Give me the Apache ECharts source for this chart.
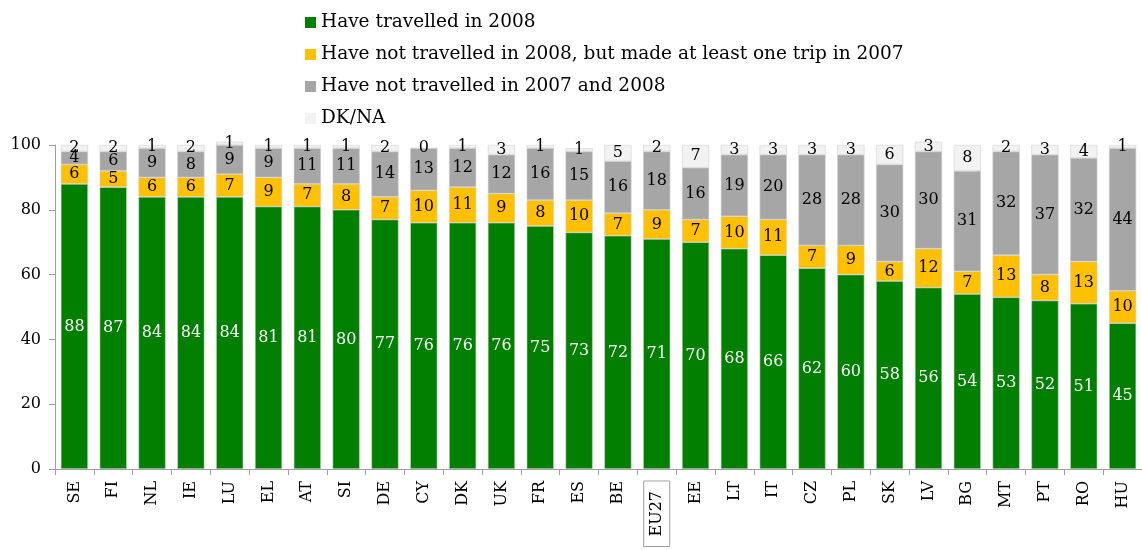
<!DOCTYPE html>
<html>
<head>
<meta charset="utf-8">
<script src="https://cdn.jsdelivr.net/npm/echarts@6/dist/echarts.min.js"></script>
<style>
html,body{margin:0;padding:0;background:#fff;}
#chart{width:1142px;height:550px;}
</style>
</head>
<body>
<div id="chart"></div>
<script>
var countries=['SE','FI','NL','IE','LU','EL','AT','SI','DE','CY','DK','UK','FR','ES','BE','EU27','EE','LT','IT','CZ','PL','SK','LV','BG','MT','PT','RO','HU'];
var travelled2008=[88,87,84,84,84,81,81,80,77,76,76,76,75,73,72,71,70,68,66,62,60,58,56,54,53,52,51,45];
var only2007=[6,5,6,6,7,9,7,8,7,10,11,9,8,10,7,9,7,10,11,7,9,6,12,7,13,8,13,10];
var notTravelled=[4,6,9,8,9,9,11,11,14,13,12,12,16,15,16,18,16,19,20,28,28,30,30,31,32,37,32,44];
var dkna=[2,2,1,2,1,1,1,1,2,0,1,3,1,1,5,2,7,3,3,3,3,6,3,8,2,3,4,1];

var seriesNames=['Have travelled in 2008','Have not travelled in 2008, but made at least one trip in 2007','Have not travelled in 2007 and 2008','DK/NA'];
var colors=['#007f00','#ffc000','#a6a6a6','#f2f2f2'];
var font='DejaVu Serif';

function makeSeries(name,data,color,labelColor){
	return {
		name:name,
		type:'bar',
		stack:'all',
		data:data,
		clip:false,
		barCategoryGap:'30%',
		itemStyle:{
			color:color,
			borderColor:'#d0d0d0',
			borderWidth:0.6
		},
		label:{
			show:true,
			position:'inside',
			color:labelColor,
			fontFamily:font,
			fontSize:16
		},
		emphasis:{disabled:true}
	};
}

var chart=echarts.init(document.getElementById('chart'));
var option={
	animation:false,
	color:colors,
	textStyle:{fontFamily:font},
	legend:{
		orient:'vertical',
		left:300,
		top:8,
		itemWidth:11,
		itemHeight:11,
		itemGap:13,
		icon:'rect',
		itemStyle:{borderWidth:0},
		textStyle:{fontFamily:font,fontSize:18.5,color:'#000'},
		data:seriesNames
	},
	grid:{
		left:55,
		top:145,
		width:1092,
		height:325
	},
	xAxis:{
		type:'category',
		data:countries,
		axisLine:{lineStyle:{color:'#a0a0a0'}},
		axisTick:{show:true,interval:0,length:6,lineStyle:{color:'#a0a0a0'}},
		axisLabel:{
			interval:0,
			rotate:90,
			margin:12,
			color:'#000',
			fontFamily:font,
			fontSize:16,
			formatter:function(v){
				if(v=='EU27'){return '{box|'+v+'}';}
				return v;
			},
			rich:{
				box:{
					fontFamily:font,
					fontSize:16,
					color:'#000',
					borderColor:'#a0a0a0',
					borderWidth:1,
					padding:[5,10,5,10]
				}
			}
		}
	},
	yAxis:{
		type:'value',
		min:0,
		max:100,
		interval:20,
		axisLine:{show:true,lineStyle:{color:'#a0a0a0'}},
		axisTick:{show:true,length:6,lineStyle:{color:'#a0a0a0'}},
		splitLine:{show:false},
		axisLabel:{color:'#000',fontFamily:font,fontSize:16,margin:14}
	},
	series:[
		makeSeries(seriesNames[0],travelled2008,colors[0],'#fff'),
		makeSeries(seriesNames[1],only2007,colors[1],'#000'),
		makeSeries(seriesNames[2],notTravelled,colors[2],'#000'),
		makeSeries(seriesNames[3],dkna,colors[3],'#000')
	]
};
chart.setOption(option);
</script>
</body>
</html>
